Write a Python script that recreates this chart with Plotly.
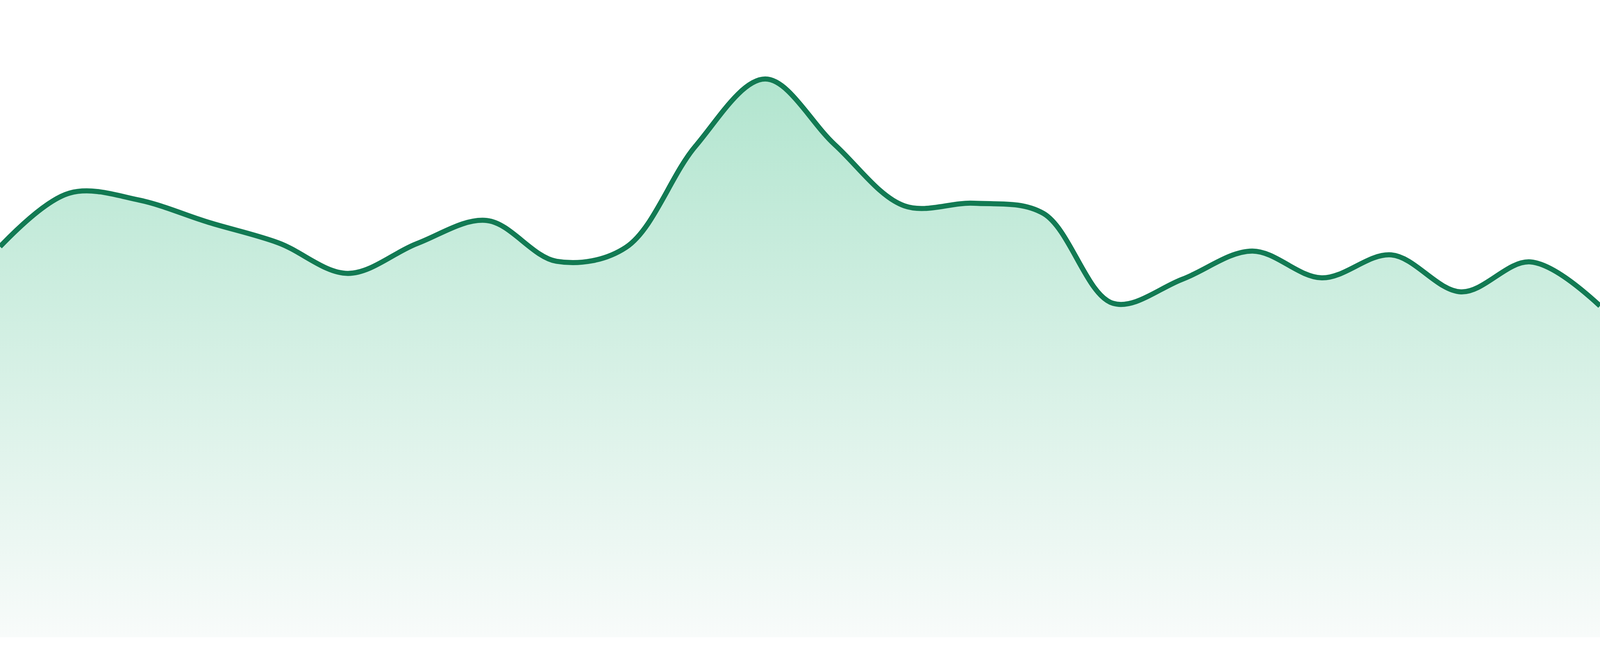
import plotly.graph_objects as go

# ONE POINT PER PERIOD, 24 PERIODS
periods = list(range(24))
values = [61.3, 69.7, 68.6, 65.1, 61.9, 57.1, 61.8, 65.4, 59.0, 61.2, 77.1, 87.6,
          77.3, 67.7, 68.1, 66.5, 52.4, 56.2, 60.6, 56.4, 60.0, 54.2, 58.9, 52.0]

line_color = "#127a53"
fill_top = "rgb(178,229,207)"
fill_bottom = "rgb(248,251,250)"

fig = go.Figure()
fig.add_trace(go.Scatter(
    x=periods,
    y=values,
    mode="lines",
    line=dict(color=line_color, width=13, shape="spline", smoothing=1),
    fill="tozeroy",
    fillgradient=dict(type="vertical", colorscale=[[0, fill_bottom], [1, fill_top]]),
    hoverinfo="skip",
))

# NO AXES, NO GRID, EDGE TO EDGE; A THIN WHITE STRIP IS LEFT UNDER THE AREA
fig.update_layout(
    margin=dict(l=0, r=0, t=0, b=0),
    paper_bgcolor="white",
    plot_bgcolor="white",
    showlegend=False,
    xaxis=dict(visible=False, range=[0, 23]),
    yaxis=dict(visible=False, range=[-2.94, 100]),
)

# make the chart fill the browser window exactly
fit_window = """
document.documentElement.style.height = '100%';
document.documentElement.style.margin = '0';
document.body.style.height = '100%';
document.body.style.margin = '0';
document.body.style.overflow = 'hidden';
Plotly.Plots.resize(document.getElementById('{plot_id}'));
"""

fig.write_html(
    "out.html",
    default_width="100%",
    default_height="100%",
    config={"displayModeBar": False, "responsive": True},
    post_script=fit_window,
)
